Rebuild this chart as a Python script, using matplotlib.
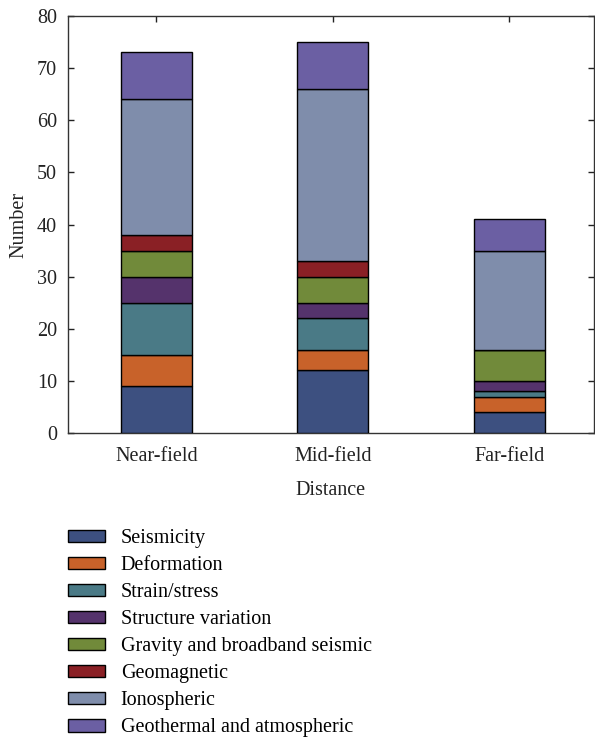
import matplotlib
matplotlib.use("Agg")
import matplotlib.pyplot as plt
import numpy as np

plt.rcParams['font.family'] = ['Liberation Serif', 'DejaVu Serif']

categories = ["Near-field", "Mid-field", "Far-field"]
series_names = ["Seismicity", "Deformation", "Strain/stress", "Structure variation",
                "Gravity and broadband seismic", "Geomagnetic", "Ionospheric",
                "Geothermal and atmospheric"]
seismicity = [9, 12, 4]
deformation = [6, 4, 3]
strain_stress = [10, 6, 1]
structure_variation = [5, 3, 2]
gravity_broadband = [5, 5, 6]
geomagnetic = [3, 3, 0]
ionospheric = [26, 33, 19]
geothermal_atmospheric = [9, 9, 6]
yticks = [0, 10, 20, 30, 40, 50, 60, 70, 80]

series = [seismicity, deformation, strain_stress, structure_variation,
          gravity_broadband, geomagnetic, ionospheric, geothermal_atmospheric]
colors = ["#3d5080", "#c8622a", "#4a7a86", "#55336c",
          "#718a3a", "#8a2025", "#7f8dab", "#6b5fa3"]

FS = 14.5

fig = plt.figure(figsize=(5.95, 7.38), dpi=100)
ax = fig.add_axes([68/595, 1-433/738, (594-68)/595, (433-16)/738])

x = np.arange(len(categories))
bottom = np.zeros(len(categories))
for name, vals, c in zip(series_names, series, colors):
    ax.bar(x, vals, width=0.4, bottom=bottom, color=c, edgecolor="black",
           linewidth=1.0, label=name, zorder=3)
    bottom += np.array(vals)

ax.set_xlim(-0.5, 2.48)
ax.set_ylim(0, 80)
ax.set_yticks(yticks)
ax.set_xticks(x)
ax.set_xticklabels(categories)
ax.tick_params(axis='both', direction='in', length=4, width=1, labelsize=FS,
               colors='#222222', labelcolor='#222222')
ax.tick_params(axis='x', top=True, bottom=True, pad=10)
ax.tick_params(axis='y', left=True, right=True, pad=8)
for s in ax.spines.values():
    s.set_linewidth(1.0)
    s.set_color('#333333')
ax.set_xlabel("Distance", fontsize=FS, color='#222222', labelpad=11)
ax.set_ylabel("Number", fontsize=FS, color='#222222', labelpad=6)

handles, labels = ax.get_legend_handles_labels()
fig.legend(handles, labels, loc='upper left', bbox_to_anchor=(64/595, 1-525/738),
           frameon=False, fontsize=FS, handlelength=1.85, handleheight=0.57,
           labelspacing=0.40, handletextpad=0.77, borderaxespad=0, borderpad=0.2)

fig.savefig("out.png", dpi=100)
